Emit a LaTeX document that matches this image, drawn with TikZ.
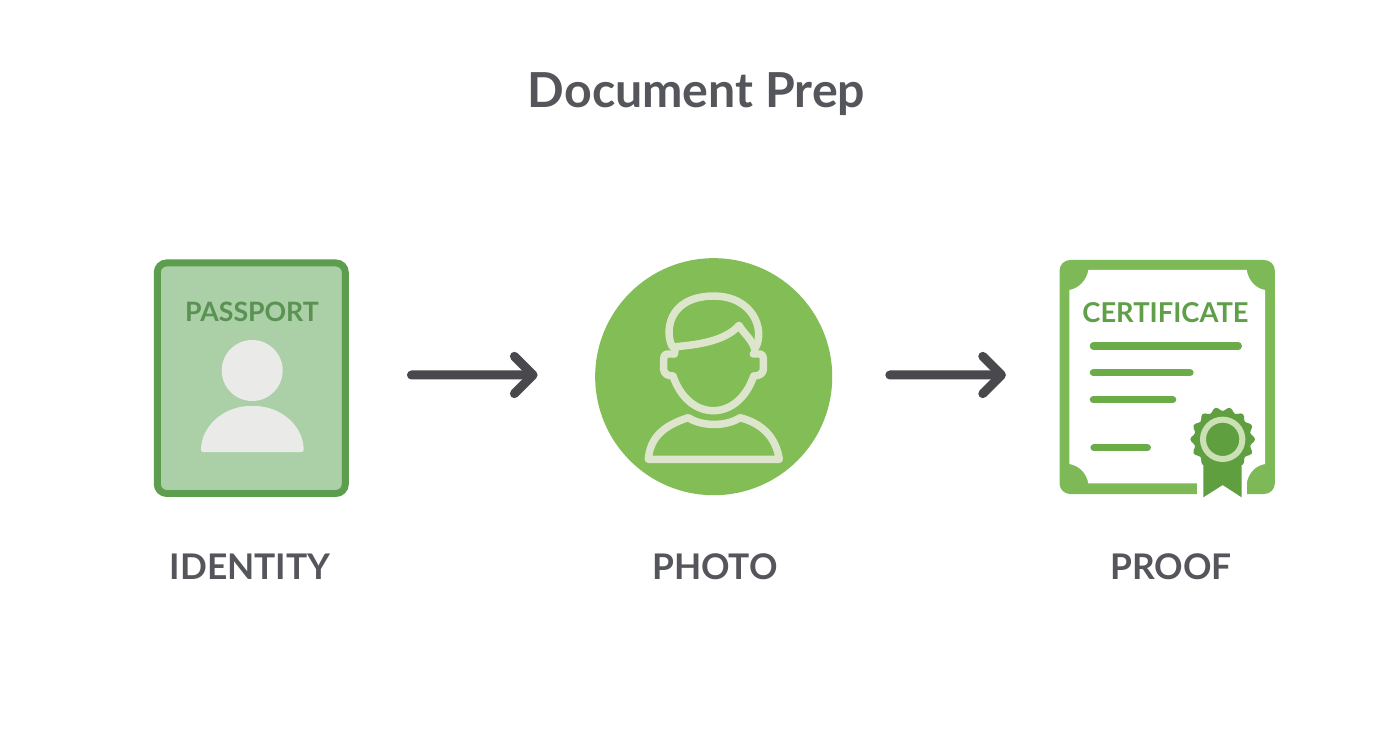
\documentclass[tikz,border=0pt]{standalone}
\usepackage{fontspec}
\setmainfont{Lato}
\usetikzlibrary{arrows.meta,calc}
\definecolor{ink}{HTML}{55565B}
\definecolor{arrowink}{HTML}{48484D}
\definecolor{passfill}{HTML}{ABCFA6}
\definecolor{passedge}{HTML}{5C9E4E}
\definecolor{passtext}{HTML}{5A9254}
\definecolor{pale}{HTML}{EAEAE8}
\definecolor{photogreen}{HTML}{82BD56}
\definecolor{photoline}{HTML}{DDE6CC}
\definecolor{certgreen}{HTML}{7DB957}
\definecolor{certdark}{HTML}{5F9F40}
\definecolor{certline}{HTML}{6BAC48}
\definecolor{certtext}{HTML}{5E9F48}
\definecolor{sealring}{HTML}{CBE0B5}
\newcommand{\fsz}[1]{\fontsize{#1}{#1}\selectfont\bfseries}
\tikzset{
  label text/.style={text=ink,font=\fsz{26.5},inner sep=0pt,anchor=center},
  flow/.style={draw=arrowink,line width=6.75pt,line cap=round,
    -{Straight Barb[length=14pt,width=28pt,round,line width=6.75pt]}},
  person/.style={draw=photoline,line width=5.6pt,line cap=round,line join=round},
  rule line/.style={draw=certline,line width=5.4pt,line cap=round},
}
\begin{document}
\begin{tikzpicture}[x=.75pt,y=-.75pt]
\useasboundingbox (0,0) rectangle (1392,752);
\fill[white] (0,0) rectangle (1392,752);
\node[text=ink,font=\fsz{36.2},inner sep=0pt] (title) at (696.5,94) {Document Prep};

% passport
\node[draw=passedge,fill=passfill,line width=5.2pt,rounded corners=7pt,
  minimum width=141pt,minimum height=172.9pt,inner sep=0pt] (passport) at (251.3,378.2) {};
\node[text=passtext,font=\fsz{20},inner sep=0pt] (passportword) at (252,311.5) {PASSPORT};
\fill[pale] (252.2,370.5) circle[radius=30.5];
\fill[pale,rounded corners=1.5pt] (201,452) .. controls (201,426) and (224,406) .. (252.3,406)
  .. controls (281,406) and (303.7,426) .. (303.7,452) -- cycle;

% photo
\node[circle,fill=photogreen,minimum size=177.8pt,inner sep=0pt] (photo) at (713.7,376.7) {};
\begin{scope}[shift={(585,250)},x=.25pt,y=-.25pt]
  \draw[person] (262,290) .. controls (240,250) and (245,140) .. (385,138)
    .. controls (505,138) and (540,240) .. (512,292);
  \draw[person] (268,312) -- (272,290) .. controls (330,285) and (420,275) .. (462,226)
    .. controls (475,250) and (500,265) .. (510,300);
  \draw[person] (268,312) -- (248,312) .. controls (238,312) and (236,320) .. (236,330)
    -- (236,358) .. controls (236,372) and (250,378) .. (264,378)
    .. controls (285,440) and (330,482) .. (385,482)
    .. controls (440,482) and (485,440) .. (506,378)
    .. controls (520,378) and (535,372) .. (535,358) -- (535,330)
    .. controls (535,320) and (533,312) .. (523,312) -- (505,312);
  \draw[person] (190,628) .. controls (195,560) and (240,525) .. (310,503)
    .. controls (350,530) and (425,530) .. (465,503)
    .. controls (530,520) and (572,560) .. (583,628) -- cycle;
\end{scope}

% certificate
\node[fill=certgreen,rounded corners=8pt,minimum width=161.5pt,minimum height=175.5pt,inner sep=0pt] (cert) at (1167.2,377) {};
\begin{scope}[shift={(1050,250)},x=.25pt,y=-.25pt]
  \fill[white] (115,60) -- (590,60) .. controls (595,90) and (615,115) .. (645,120)
    -- (645,642) .. controls (615,647) and (595,670) .. (590,700)
    -- (115,700) .. controls (110,670) and (88,647) .. (58,642)
    -- (58,120) .. controls (88,115) and (110,90) .. (115,60) -- cycle;
  \fill[white] (440,695) rectangle (590,740);
  \draw[rule line] (130,288) -- (565,288);
  \draw[rule line] (130,368) -- (420,368);
  \draw[rule line] (130,449) -- (368,449);
  \draw[rule line] (132,593) -- (292,593);
  \fill[certdark] (460,610) -- (460,742) -- (518,705) -- (575,742) -- (575,610) -- cycle;
  \begin{scope}[shift={(518,568)}]
    \fill[certdark] plot[smooth cycle,samples=84,domain=0:355.7] (\x:{91+6*cos(14*\x)});
    \draw[sealring,line width=4.5pt] (0,0) circle[radius=59];
  \end{scope}
\end{scope}
\node[text=certtext,font=\fsz{20.5},inner sep=0pt] (certword) at (1165.5,312.5) {CERTIFICATE};

% captions
\node[label text] (identity) at (250,566.5) {IDENTITY};
\node[label text] (photolabel) at (715,566.5) {PHOTO};
\node[label text] (proof) at (1171,566.5) {PROOF};

% arrows
\draw[flow,shorten <=47pt,shorten >=43pt] ([yshift=2.4pt]passport.east) -- ([yshift=1.3pt]photo.west);
\draw[flow,shorten <=43pt,shorten >=40pt] ([yshift=1.3pt]photo.east) -- ([yshift=1.5pt]cert.west);
\end{tikzpicture}
\end{document}
